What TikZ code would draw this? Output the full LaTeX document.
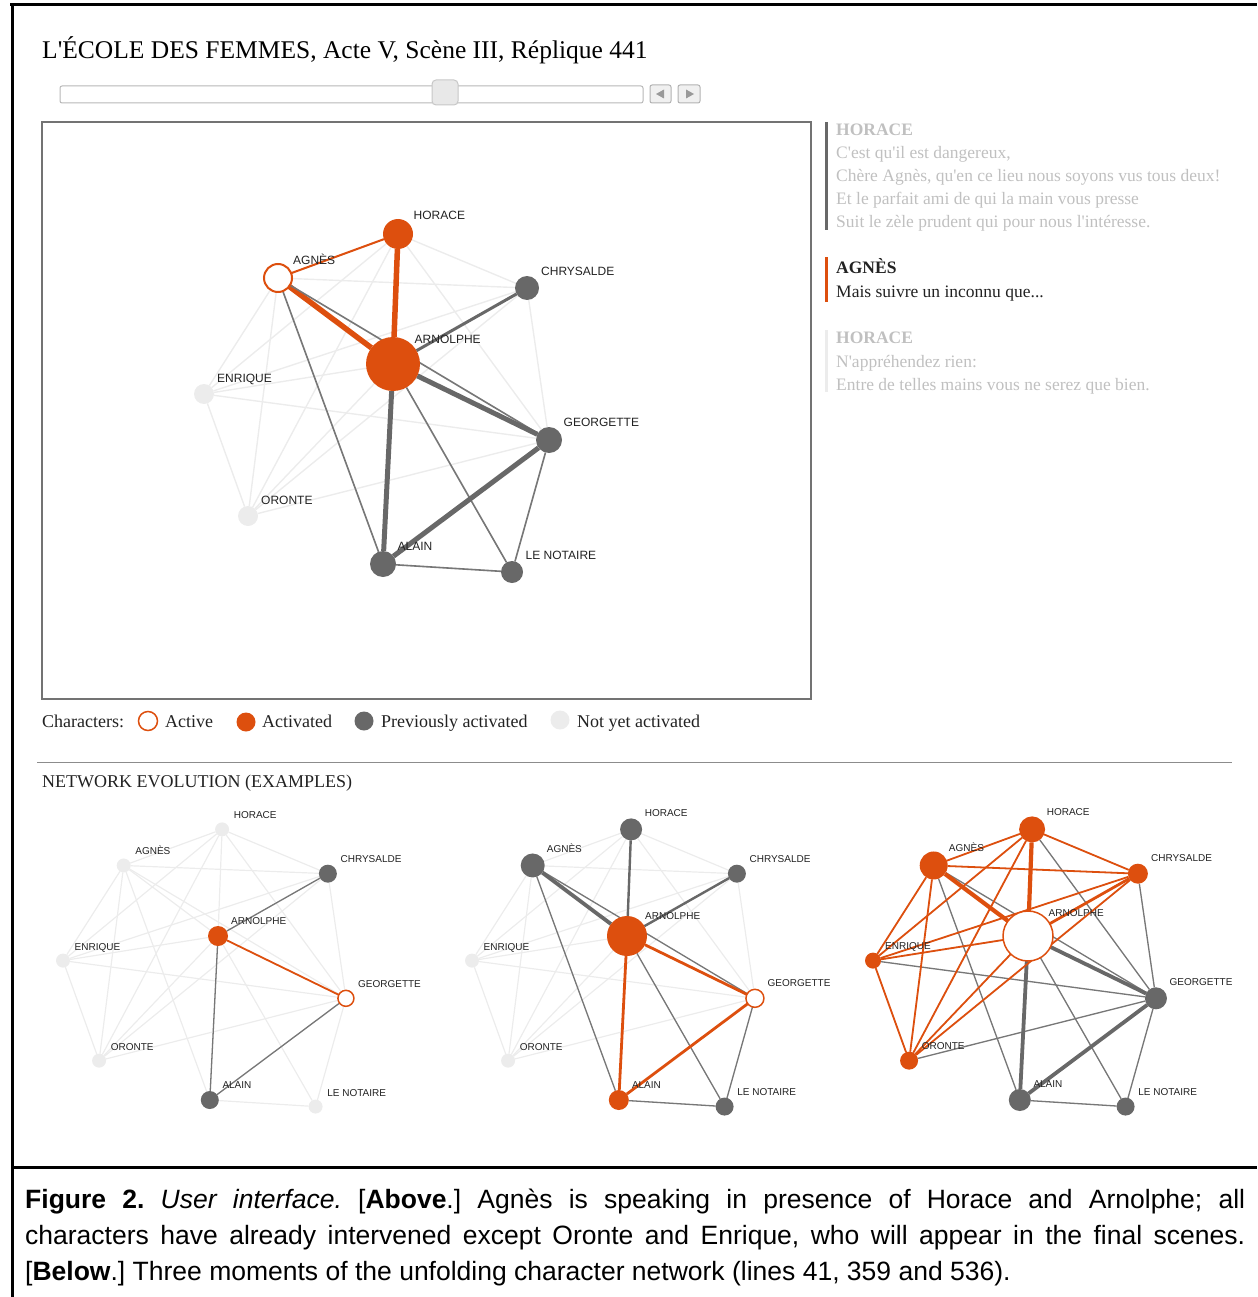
\documentclass[tikz,border=0pt]{standalone}
\usepackage{fontspec}
\setmainfont{Liberation Serif}
\newfontfamily\pageserif{Liberation Serif}
\newfontfamily\labelsans{Liberation Sans}
\usetikzlibrary{positioning,backgrounds}
\definecolor{litOrange}{RGB}{221,79,14}
\definecolor{seenGray}{RGB}{104,104,104}
\definecolor{faintGray}{RGB}{236,236,236}
\definecolor{paleText}{RGB}{192,192,192}
\definecolor{inkText}{RGB}{34,34,34}
\tikzstyle{character} = [circle, inner sep=0pt, outer sep=0pt]
\tikzstyle{active} = [character, draw=litOrange, line width=2pt, fill=white]
\tikzstyle{activated} = [character, fill=litOrange]
\tikzstyle{previous} = [character, fill=seenGray]
\tikzstyle{notyet} = [character, fill=faintGray]
\tikzstyle{castLabel} = [font=\labelsans\fontsize{12}{14}\selectfont, text=inkText, inner sep=0pt]
\tikzstyle{faint} = [draw=faintGray, line width=1.4pt]
\tikzstyle{seen} = [draw=seenGray!90, line width=1.6pt]
\tikzstyle{seenMid} = [draw=seenGray, line width=3pt]
\tikzstyle{seenThick} = [draw=seenGray, line width=5pt]
\tikzstyle{lit} = [draw=litOrange, line width=2pt]
\tikzstyle{litMid} = [draw=litOrange, line width=3pt]
\tikzstyle{litThick} = [draw=litOrange, line width=5.5pt]
\tikzstyle{smallNet} = [seen/.append style={line width=1.3pt}, seenMid/.append style={line width=2.4pt}, seenThick/.append style={line width=3.8pt}, lit/.append style={line width=1.8pt}, litMid/.append style={line width=2.8pt}, litThick/.append style={line width=4.2pt}, faint/.append style={line width=1.2pt}, active/.append style={line width=1.5pt}, castLabel/.append style={font=\labelsans\fontsize{10}{12}\selectfont}]
\tikzstyle{frameLine} = [line width=3pt, black]
\tikzstyle{titleText} = [font=\pageserif\fontsize{25.5}{30}\selectfont, inner sep=0pt, anchor=base west]
\tikzstyle{speechText} = [font=\pageserif\fontsize{17.5}{21}\selectfont, text=paleText, inner sep=0pt, anchor=base west]
\tikzstyle{speechHead} = [speechText, font=\pageserif\fontsize{17.5}{21}\selectfont\bfseries]
\tikzstyle{speakerText} = [speechText, text=inkText]
\tikzstyle{speakerHead} = [speechHead, text=inkText]
\tikzstyle{legendText} = [font=\pageserif\fontsize{18}{21}\selectfont, text=inkText, inner sep=0pt, anchor=base west]
\tikzstyle{captionText} = [font=\labelsans\fontsize{26.5}{32}\selectfont\frenchspacing, inner sep=0pt, anchor=base west]
\tikzstyle{sliderButton} = [draw=black!30, fill=black!6, rounded corners=2pt, line width=1pt]
% positions of the cast, in pixels round ARNOLPHE
\newcommand{\castLayout}[1]{
  \foreach \key/\px/\py in {hor/5/-130, agn/-115/-86, chr/134/-76, arn/0/0, enr/-189/30, geo/156/76, oro/-145/152, ala/-10/200, not/119/208}
    \coordinate (#1\key) at (\px,\py);
}
\newcommand{\castNodes}[2]{
  \foreach \key/\state/\diam/\who in {#2} {
    \pgfmathsetmacro{\lblx}{8 + \diam/4}
    \pgfmathsetmacro{\lbly}{7 + \diam/4}
    \node[\state, minimum size=\diam pt] (#1-\key) at (#1\key) {};
    \node[castLabel, above right=\lbly pt and \lblx pt of #1-\key.center, anchor=base west] (#1-\key-name) {\who};
  }
}
\newcommand{\faintEdges}[1]{
  \foreach \ea/\eb in {hor/agn, hor/chr, hor/arn, hor/enr, hor/oro, hor/geo, agn/chr, agn/arn, agn/enr, agn/oro, agn/geo, agn/ala, chr/arn, chr/enr, chr/oro, chr/geo, arn/enr, arn/oro, arn/geo, arn/ala, arn/not, enr/oro, enr/geo, oro/geo, geo/ala, geo/not, ala/not}
    \draw[faint] (#1-\ea) -- (#1-\eb);
}
\newcommand{\castEdges}[2]{
  \foreach \ea/\eb/\s in {#2}
    \draw[\s] (#1-\ea) -- (#1-\eb);
}
\begin{document}
\begin{tikzpicture}[x=1pt, y=-1pt]
\useasboundingbox (0,0) rectangle (1257,1297);
\draw[frameLine] (10,5) -- (1257,5);
\draw[frameLine] (12,5) -- (12,1297);
\draw[frameLine] (12,1167) -- (1257,1167);

% header and slider
\node[titleText] (title) at (42,59) {L'ÉCOLE DES FEMMES, Acte V, Scène III, Réplique 441};
\draw[draw=black!28, fill=white, rounded corners=2pt, line width=1pt] (60,86) rectangle (643,103);
\draw[draw=black!22, fill=black!9, rounded corners=4pt, line width=1pt] (432,80) rectangle (458,105);
\draw[sliderButton] (650,85) rectangle (671,103);
\fill[black!40] (656,94) -- (664,89.5) -- (664,98.5) -- cycle;
\draw[sliderButton] (678,85) rectangle (700,103);
\fill[black!40] (686,89.5) -- (694,94) -- (686,98.5) -- cycle;

% main network
\draw[draw=black!55, line width=1.5pt] (42,122) rectangle (811,699);
\begin{scope}[shift={(393,364)}]
  \castLayout{m}
\end{scope}
\castNodes{m}{hor/activated/30/HORACE, agn/active/28/AGNÈS, chr/previous/24/CHRYSALDE, arn/activated/54/ARNOLPHE, enr/notyet/20/ENRIQUE, geo/previous/26/GEORGETTE, oro/notyet/20/ORONTE, ala/previous/26/ALAIN, not/previous/22/LE NOTAIRE}
\begin{pgfonlayer}{background}
  \faintEdges{m}
  \castEdges{m}{agn/hor/lit, hor/arn/litThick, agn/arn/litThick, chr/arn/seenMid, agn/geo/seen, agn/ala/seen, arn/not/seen, geo/not/seen, ala/not/seen, arn/geo/seenThick, arn/ala/seenThick, geo/ala/seenThick}
\end{pgfonlayer}

% speech panel
\fill[seenGray] (825,122) rectangle (828,230);
\fill[litOrange] (825,257) rectangle (827.5,302);
\fill[faintGray] (825,330) rectangle (827.5,392);
\foreach \n/\y/\style/\txt in {1/136/speechHead/HORACE, 2/159/speechText/{C'est qu'il est dangereux,}, 3/182/speechText/{Chère Agnès, qu'en ce lieu nous soyons vus tous deux!}, 4/205/speechText/{Et le parfait ami de qui la main vous presse}, 5/228/speechText/{Suit le zèle prudent qui pour nous l'intéresse.}, 6/273/speakerHead/AGNÈS, 7/297/speakerText/{Mais suivre un inconnu que...}, 8/343/speechHead/HORACE, 9/367/speechText/{N'appréhendez rien:}, 10/390/speechText/{Entre de telles mains vous ne serez que bien.}}
  \node[\style] (speech\n) at (836,\y) {\txt};

% legend
\node[legendText] (legend) at (42,727) {Characters:};
\node[active, line width=1.5pt, minimum size=19pt] (keyActive) at (148,721) {};
\node[legendText] (keyActiveText) at (165,727) {Active};
\node[activated, minimum size=19pt] (keyActivated) at (246,722) {};
\node[legendText] (keyActivatedText) at (262,727) {Activated};
\node[previous, minimum size=19pt] (keyPrevious) at (364,721) {};
\node[legendText] (keyPreviousText) at (381,727) {Previously activated};
\node[notyet, minimum size=19pt] (keyNotyet) at (560,720) {};
\node[legendText] (keyNotyetText) at (577,727) {Not yet activated};

\draw[black!45, line width=1pt] (37,762) -- (1232,762);
\node[legendText] (evolution) at (42,787) {NETWORK EVOLUTION (EXAMPLES)};

% three moments
\begin{scope}[shift={(218,936)}, scale=0.82]
  \castLayout{a}
\end{scope}
\begin{scope}[shift={(627,936)}, scale=0.82]
  \castLayout{b}
\end{scope}
\begin{scope}[shift={(1028,936)}, scale=0.82]
  \castLayout{c}
\end{scope}
\begin{scope}[smallNet]
  \castNodes{a}{hor/notyet/14/HORACE, agn/notyet/14/AGNÈS, chr/previous/18/CHRYSALDE, arn/activated/20/ARNOLPHE, enr/notyet/14/ENRIQUE, geo/active/16/GEORGETTE, oro/notyet/14/ORONTE, ala/previous/18/ALAIN, not/notyet/14/LE NOTAIRE}
  \castNodes{b}{hor/previous/22/HORACE, agn/previous/24/AGNÈS, chr/previous/18/CHRYSALDE, arn/activated/40/ARNOLPHE, enr/notyet/14/ENRIQUE, geo/active/18/GEORGETTE, oro/notyet/14/ORONTE, ala/activated/20/ALAIN, not/previous/18/LE NOTAIRE}
  \castNodes{c}{hor/activated/26/HORACE, agn/activated/28/AGNÈS, chr/activated/20/CHRYSALDE, arn/active/50/ARNOLPHE, enr/activated/16/ENRIQUE, geo/previous/22/GEORGETTE, oro/activated/18/ORONTE, ala/previous/22/ALAIN, not/previous/18/LE NOTAIRE}
  \begin{pgfonlayer}{background}
    \faintEdges{a}
    \castEdges{a}{arn/geo/lit, chr/arn/seen, arn/ala/seen, geo/ala/seen}
    \faintEdges{b}
    \castEdges{b}{agn/geo/seen, agn/ala/seen, arn/not/seen, geo/not/seen, ala/not/seen, hor/arn/seenMid, chr/arn/seenMid, agn/arn/seenThick, arn/geo/litMid, arn/ala/litMid, geo/ala/litMid}
    \faintEdges{c}
    \castEdges{c}{agn/geo/seen, agn/ala/seen, hor/geo/seen, chr/geo/seen, arn/not/seen, enr/geo/seen, oro/geo/seen, geo/not/seen, ala/not/seen, arn/geo/seenThick, arn/ala/seenThick, geo/ala/seenThick, hor/agn/lit, hor/chr/lit, hor/enr/lit, hor/oro/lit, agn/chr/lit, agn/enr/lit, agn/oro/lit, chr/enr/lit, chr/oro/lit, arn/enr/lit, arn/oro/lit, enr/oro/lit, chr/arn/litMid, hor/arn/litThick, agn/arn/litThick}
  \end{pgfonlayer}
\end{scope}

% caption
\node[captionText] (caption1) at (25,1208) {\makebox[1220pt][s]{\textbf{Figure 2.} \textit{User interface.} [\textbf{Above}.] Agnès is speaking in presence of Horace and Arnolphe; all}};
\node[captionText] (caption2) at (25,1244) {\makebox[1220pt][s]{characters have already intervened except Oronte and Enrique, who will appear in the final scenes.}};
\node[captionText] (caption3) at (25,1280) {[\textbf{Below}.] Three moments of the unfolding character network (lines 41, 359 and 536).};
\end{tikzpicture}
\end{document}
